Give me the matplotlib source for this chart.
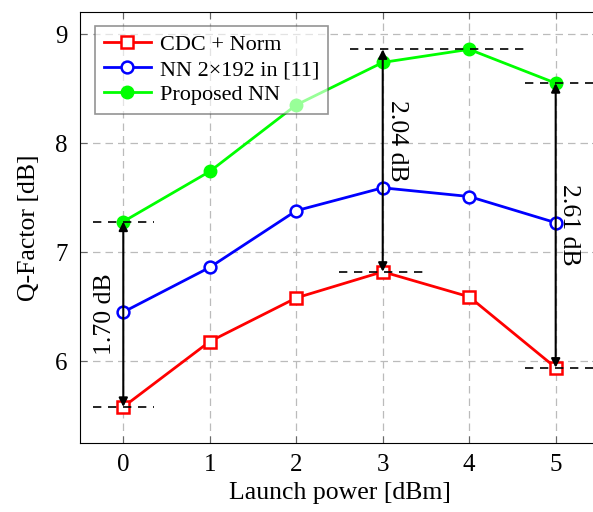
import numpy as np
import matplotlib.pyplot as plt

plt.rcParams['font.family'] = ['Liberation Serif', 'DejaVu Serif']

power = [0, 1, 2, 3, 4, 5]
q_cdc = [5.58, 6.18, 6.58, 6.82, 6.59, 5.94]
q_nn192 = [6.45, 6.86, 7.38, 7.59, 7.51, 7.27]
q_proposed = [7.28, 7.74, 8.35, 8.74, 8.86, 8.55]

fig, ax = plt.subplots(figsize=(5.93, 5.12), dpi=100)
fig.subplots_adjust(left=0.135, right=1.01, top=0.976, bottom=0.135)

ax.plot(power, q_cdc, color='red', lw=2, marker='s', ms=8.5, mfc='white', mew=1.8,
        label='CDC + Norm', zorder=3)
ax.plot(power, q_nn192, color='blue', lw=2, marker='o', ms=8.5, mfc='white', mew=1.8,
        label='NN 2×192 in [11]', zorder=3)
ax.plot(power, q_proposed, color='#00ff00', lw=2, marker='o', ms=9,
        label='Proposed NN', zorder=3)

# gap annotations
def gap(x, lo, hi, lo_span, hi_span, tx, ty, rot):
    ax.hlines(lo, *lo_span, colors='black', linestyles=(0, (5, 4)), lw=1.2, zorder=4)
    ax.hlines(hi, *hi_span, colors='black', linestyles=(0, (5, 4)), lw=1.2, zorder=4)
    ax.annotate('', xy=(x, lo), xytext=(x, hi),
                arrowprops=dict(arrowstyle='<|-|>', color='black', lw=1.5,
                                shrinkA=0, shrinkB=0, mutation_scale=13), zorder=4)
    ax.text(tx, ty, f'{hi - lo:.2f} dB', rotation=rot, ha='center',
            va='center', fontsize=18.5)

gap(0, q_cdc[0], q_proposed[0], (-0.35, 0.35), (-0.35, 0.35), -0.21, 6.43, 90)
gap(3, max(q_cdc), max(q_proposed), (2.5, 3.5), (2.62, 4.65), 3.16, 8.02, -90)
gap(5, q_cdc[5], q_proposed[5], (4.65, 5.5), (4.65, 5.5), 5.15, 7.25, -90)

ax.set_xlim(-0.5, 5.5)
ax.set_ylim(5.25, 9.2)
ax.set_xticks(power)
ax.set_yticks([6, 7, 8, 9])
ax.tick_params(direction='in', top=True, right=True, labelsize=18, length=5,
               color='0.4')
ax.tick_params(axis='x', pad=8)
ax.tick_params(axis='y', pad=9)
ax.grid(True, color='#bbbbbb', linestyle=(0, (6, 4)), lw=0.9)
ax.set_axisbelow(True)
ax.set_xlabel('Launch power [dBm]', fontsize=18.5, labelpad=4)
ax.set_ylabel('Q-Factor [dB]', fontsize=18.5, labelpad=11)

leg = ax.legend(loc='upper left', fontsize=16, fancybox=False, edgecolor='0.3',
                framealpha=0.6, handlelength=2.1, handletextpad=0.4, borderpad=0.4,
                labelspacing=0.2, borderaxespad=0, bbox_to_anchor=(0.029, 0.969))
leg.get_frame().set_linewidth(1.2)

plt.savefig('out.png', dpi=100)
